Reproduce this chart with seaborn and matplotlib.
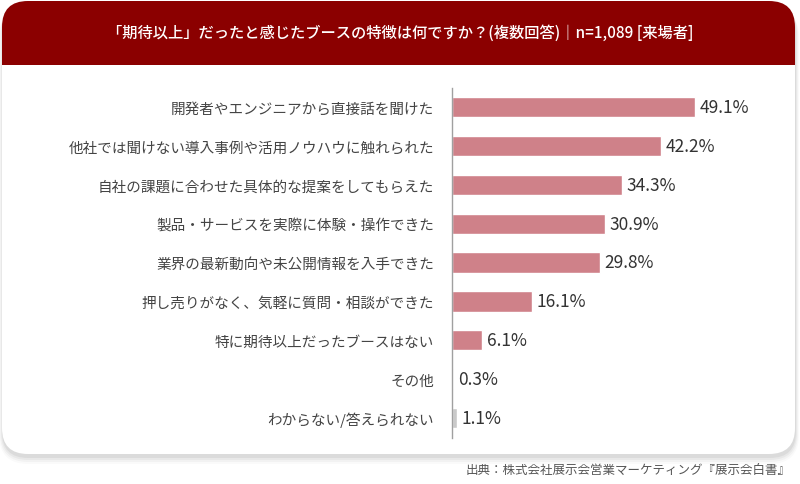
import matplotlib
matplotlib.use("Agg")
import matplotlib.pyplot as plt
import matplotlib.patches as mpatches
import matplotlib.transforms as mtransforms
import pandas as pd
import seaborn as sns

# データ
labels = [
    "開発者やエンジニアから直接話を聞けた",
    "他社では聞けない導入事例や活用ノウハウに触れられた",
    "自社の課題に合わせた具体的な提案をしてもらえた",
    "製品・サービスを実際に体験・操作できた",
    "業界の最新動向や未公開情報を入手できた",
    "押し売りがなく、気軽に質問・相談ができた",
    "特に期待以上だったブースはない",
    "その他",
    "わからない/答えられない",
]
values = [49.1, 42.2, 34.3, 30.9, 29.8, 16.1, 6.1, 0.3, 1.1]
title = "「期待以上」だったと感じたブースの特徴は何ですか？(複数回答)｜n=1,089 [来場者]"
source = "出典：株式会社展示会営業マーケティング『展示会白書』"

pink = "#cf8189"
gray = "#c9c9c9"
colors = [pink] * 8 + [gray]

sns.set_theme(style="white")
plt.rcParams["font.family"] = ["Noto Sans CJK JP", "DejaVu Sans"]

W, H = 800, 485
fig = plt.figure(figsize=(W / 100, H / 100), dpi=100)
fig.patch.set_facecolor("#ffffff")
px = mtransforms.IdentityTransform()


def box(x0, y0, x1, y1, color, r=0, alpha=1.0, z=0):
    # 画像座標(上原点)で指定
    if r > 0:
        p = mpatches.FancyBboxPatch(
            (x0 + r, H - y1 + r), (x1 - x0) - 2 * r, (y1 - y0) - 2 * r,
            boxstyle=f"round,pad={r}", transform=px,
            facecolor=color, edgecolor="none", alpha=alpha, zorder=z)
    else:
        p = mpatches.Rectangle((x0, H - y1), x1 - x0, y1 - y0, transform=px,
                               facecolor=color, edgecolor="none", alpha=alpha, zorder=z)
    fig.patches.append(p)


# カードの影
for i, a in enumerate([0.05, 0.04, 0.03, 0.02]):
    box(2 - i, 6 + i, 796 + i, 459 + 2 * i, "#000000", r=26 + i, alpha=a, z=0)
# カード本体
box(2, 2, 795, 455, "#ffffff", r=26, z=1)
# ヘッダー
box(2, 2, 795, 100, "#8b0000", r=26, z=2)
box(2, 66, 795, 110, "#ffffff", z=3)

fig.text(400 / W, 1 - 33 / H, title, color="white", fontsize=11, fontweight="medium",
         ha="center", va="center", zorder=5)
fig.text(791 / W, 1 - 470 / H, source, color="#555555", fontsize=9,
         ha="right", va="center")

ax = fig.add_axes([452 / W, 1 - 438.5 / H, 300 / W, 350 / H])
ax.set_facecolor("none")
ax.set_zorder(4)

df = pd.DataFrame({"label": labels, "value": values})
sns.barplot(data=df, x="value", y="label", hue="label", palette=colors,
            legend=False, orient="h", width=0.52, ax=ax, saturation=1)

ax.set_xlim(0, 60.6)
ax.set_ylim(8.5, -0.5)
ax.set_xlabel("")
ax.set_ylabel("")
ax.set_xticks([])
for s in ["top", "right", "bottom"]:
    ax.spines[s].set_visible(False)
ax.spines["left"].set_color("#a0a0a0")
ax.spines["left"].set_linewidth(1.0)
ax.tick_params(axis="y", length=0, pad=13, labelsize=10.5, labelcolor="#444444")

for i, v in enumerate(values):
    ax.text(v + 0.9, i, f"{v:.1f}%", va="center", ha="left",
            fontsize=12.5, color="#333333")

fig.savefig("out.png", dpi=100)
